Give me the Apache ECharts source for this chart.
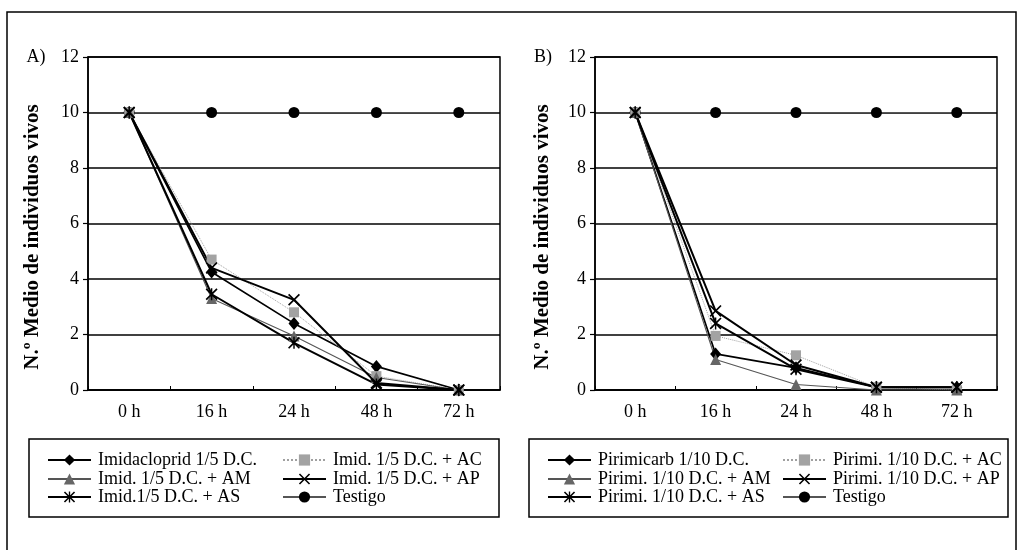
<!DOCTYPE html>
<html lang="es">
<head>
    <meta charset="UTF-8">
    <title>Individuos vivos</title>
    <script src="https://cdn.jsdelivr.net/npm/echarts@6/dist/echarts.min.js"></script>
    <style>
        html, body { margin: 0; padding: 0; background: #fff; }
        #chart { width: 1024px; height: 550px; }
    </style>
</head>
<body>
<div id="chart"></div>
<script>
    // categorias y valores
    var horas = ['0 h', '16 h', '24 h', '48 h', '72 h'];

    var namesA = ['Imidacloprid 1/5 D.C.', 'Imid. 1/5 D.C. + AC', 'Imid. 1/5 D.C. + AM',
                  'Imid. 1/5 D.C. + AP', 'Imid.1/5 D.C. + AS', 'Testigo'];
    var imidA  = [10, 4.25, 2.4, 0.85, 0];
    var imidAC = [10, 4.7, 2.8, 0.5, 0];
    var imidAM = [10, 3.3, 1.95, 0.45, 0];
    var imidAP = [10, 4.4, 3.25, 0.25, 0];
    var imidAS = [10, 3.45, 1.7, 0.2, 0];
    var testigoA = [10, 10, 10, 10, 10];

    var namesB = ['Pirimicarb 1/10 D.C.', 'Pirimi. 1/10 D.C. + AC', 'Pirimi. 1/10 D.C. + AM',
                  'Pirimi. 1/10 D.C. + AP', 'Pirimi. 1/10 D.C. + AS', 'Testigo'];
    var piri   = [10, 1.3, 0.8, 0.1, 0.1];
    var piriAC = [10, 1.95, 1.25, 0.1, 0];
    var piriAM = [10, 1.1, 0.2, 0, 0];
    var piriAP = [10, 2.85, 0.9, 0.1, 0.1];
    var piriAS = [10, 2.4, 0.75, 0.1, 0.1];
    var testigoB = [10, 10, 10, 10, 10];

    var yTicks = [0, 2, 4, 6, 8, 10, 12];

    var FONT = '"Liberation Serif", "DejaVu Serif", serif';
    var X_PATH = 'path://M0,1 L1,0 L5,4 L9,0 L10,1 L6,5 L10,9 L9,10 L5,6 L1,10 L0,9 L4,5 Z';
    var AST_PATH = X_PATH + ' M4.4,0 L5.6,0 L5.6,10 L4.4,10 Z';

    // estilos de cada serie (mismo orden que los nombres)
    var estilos = [
        {symbol: 'diamond', size: [11, 13], color: '#000', lw: 1.7, lc: '#000', type: 'solid'},
        {symbol: 'rect', size: 10, color: '#a3a3a3', lw: 1, lc: '#a0a0a0', type: 'dotted'},
        {symbol: 'triangle', size: 11, color: '#666', lw: 1.1, lc: '#555', type: 'solid'},
        {symbol: X_PATH, size: 12, color: '#000', lw: 2, lc: '#000', type: 'solid'},
        {symbol: AST_PATH, size: 12, color: '#000', lw: 2, lc: '#000', type: 'solid'},
        {symbol: 'circle', size: 11, color: '#000', lw: 1.1, lc: '#555', type: 'solid'}
    ];

    function makeSeries(names, values, idx) {
        return names.map(function (n, i) {
            var e = estilos[i];
            return {
                name: n, type: 'line', xAxisIndex: idx, yAxisIndex: idx,
                data: values[i],
                symbol: e.symbol, symbolSize: e.size, showAllSymbol: true,
                itemStyle: {color: e.color},
                lineStyle: {color: e.lc, width: e.lw, type: e.type},
                z: 3 + (i === 5 ? 0 : 1),
                animation: false
            };
        });
    }

    function makeLegends(names, boxLeft, boxTop) {
        var cols = [boxLeft + 18, boxLeft + 253];
        var rows = [boxTop + 21, boxTop + 40, boxTop + 58];
        return names.map(function (n, i) {
            return {
                data: [n],
                left: cols[i % 2], top: rows[Math.floor(i / 2)] - 9,
                padding: 0, itemWidth: 43, itemHeight: 14, itemGap: 0,
                textStyle: {fontFamily: FONT, fontSize: 18, color: '#000', padding: [0, 0, 0, 2]},
                selectedMode: false
            };
        });
    }

    function yAxis(idx) {
        return {
            type: 'value', gridIndex: idx, min: 0, max: 12, interval: 2,
            axisLine: {show: true, lineStyle: {color: '#000', width: 1.5}},
            axisTick: {show: true, length: 5, lineStyle: {color: '#000', width: 1.2}},
            axisLabel: {fontFamily: FONT, fontSize: 18, color: '#000', margin: 9,
                formatter: function (v) { return yTicks.indexOf(v) >= 0 ? String(v) : ''; }},
            splitLine: {show: true, lineStyle: {color: '#000', width: 1.5}}
        };
    }

    function xAxis(idx) {
        return {
            type: 'category', gridIndex: idx, data: horas, boundaryGap: true,
            axisLine: {show: true, lineStyle: {color: '#000', width: 1.5}},
            axisTick: {show: true, inside: true, length: 4, interval: 0, lineStyle: {color: '#000'}},
            axisLabel: {fontFamily: FONT, fontSize: 18, color: '#000', margin: 13, interval: 0}
        };
    }

    function texto(t, x, y) {
        return {type: 'text', x: x, y: y, z: 10,
                style: {text: t, x: 0, y: 0, fill: '#000', font: '18px ' + FONT,
                        textAlign: 'center', textVerticalAlign: 'middle'}};
    }

    function etiquetaY(x) {
        return {type: 'text', x: x, y: 237, rotation: Math.PI / 2, z: 10,
                style: {text: 'N.º Medio de individuos vivos', x: 0, y: 0, fill: '#000',
                        font: 'bold 21px ' + FONT, textAlign: 'center', textVerticalAlign: 'middle'}};
    }

    var chart = echarts.init(document.getElementById('chart'), null, {renderer: 'canvas'});

    var option = {
        backgroundColor: '#fff',
        animation: false,
        grid: [
            {left: 88, top: 57, width: 412, height: 333, show: true, borderColor: '#000', borderWidth: 1.5, backgroundColor: 'transparent'},
            {left: 595, top: 57, width: 402, height: 333, show: true, borderColor: '#000', borderWidth: 1.5, backgroundColor: 'transparent'}
        ],
        xAxis: [xAxis(0), xAxis(1)],
        yAxis: [yAxis(0), yAxis(1)],
        legend: makeLegends(namesA, 29, 439).concat(makeLegends(namesB, 529, 439)),
        series: makeSeries(namesA, [imidA, imidAC, imidAM, imidAP, imidAS, testigoA], 0)
            .concat(makeSeries(namesB, [piri, piriAC, piriAM, piriAP, piriAS, testigoB], 1)),
        graphic: [
            {type: 'rect', shape: {x: 7, y: 12, width: 1009, height: 560},
             style: {fill: 'none', stroke: '#000', lineWidth: 1.5}, z: 0},
            {type: 'rect', shape: {x: 29, y: 439, width: 470, height: 78},
             style: {fill: 'none', stroke: '#000', lineWidth: 1.5}, z: 1},
            {type: 'rect', shape: {x: 529, y: 439, width: 479, height: 78},
             style: {fill: 'none', stroke: '#000', lineWidth: 1.5}, z: 1},
            texto('A)', 36, 57),
            texto('B)', 543, 57),
            etiquetaY(33),
            etiquetaY(543)
        ]
    };

    chart.setOption(option);
</script>
</body>
</html>
